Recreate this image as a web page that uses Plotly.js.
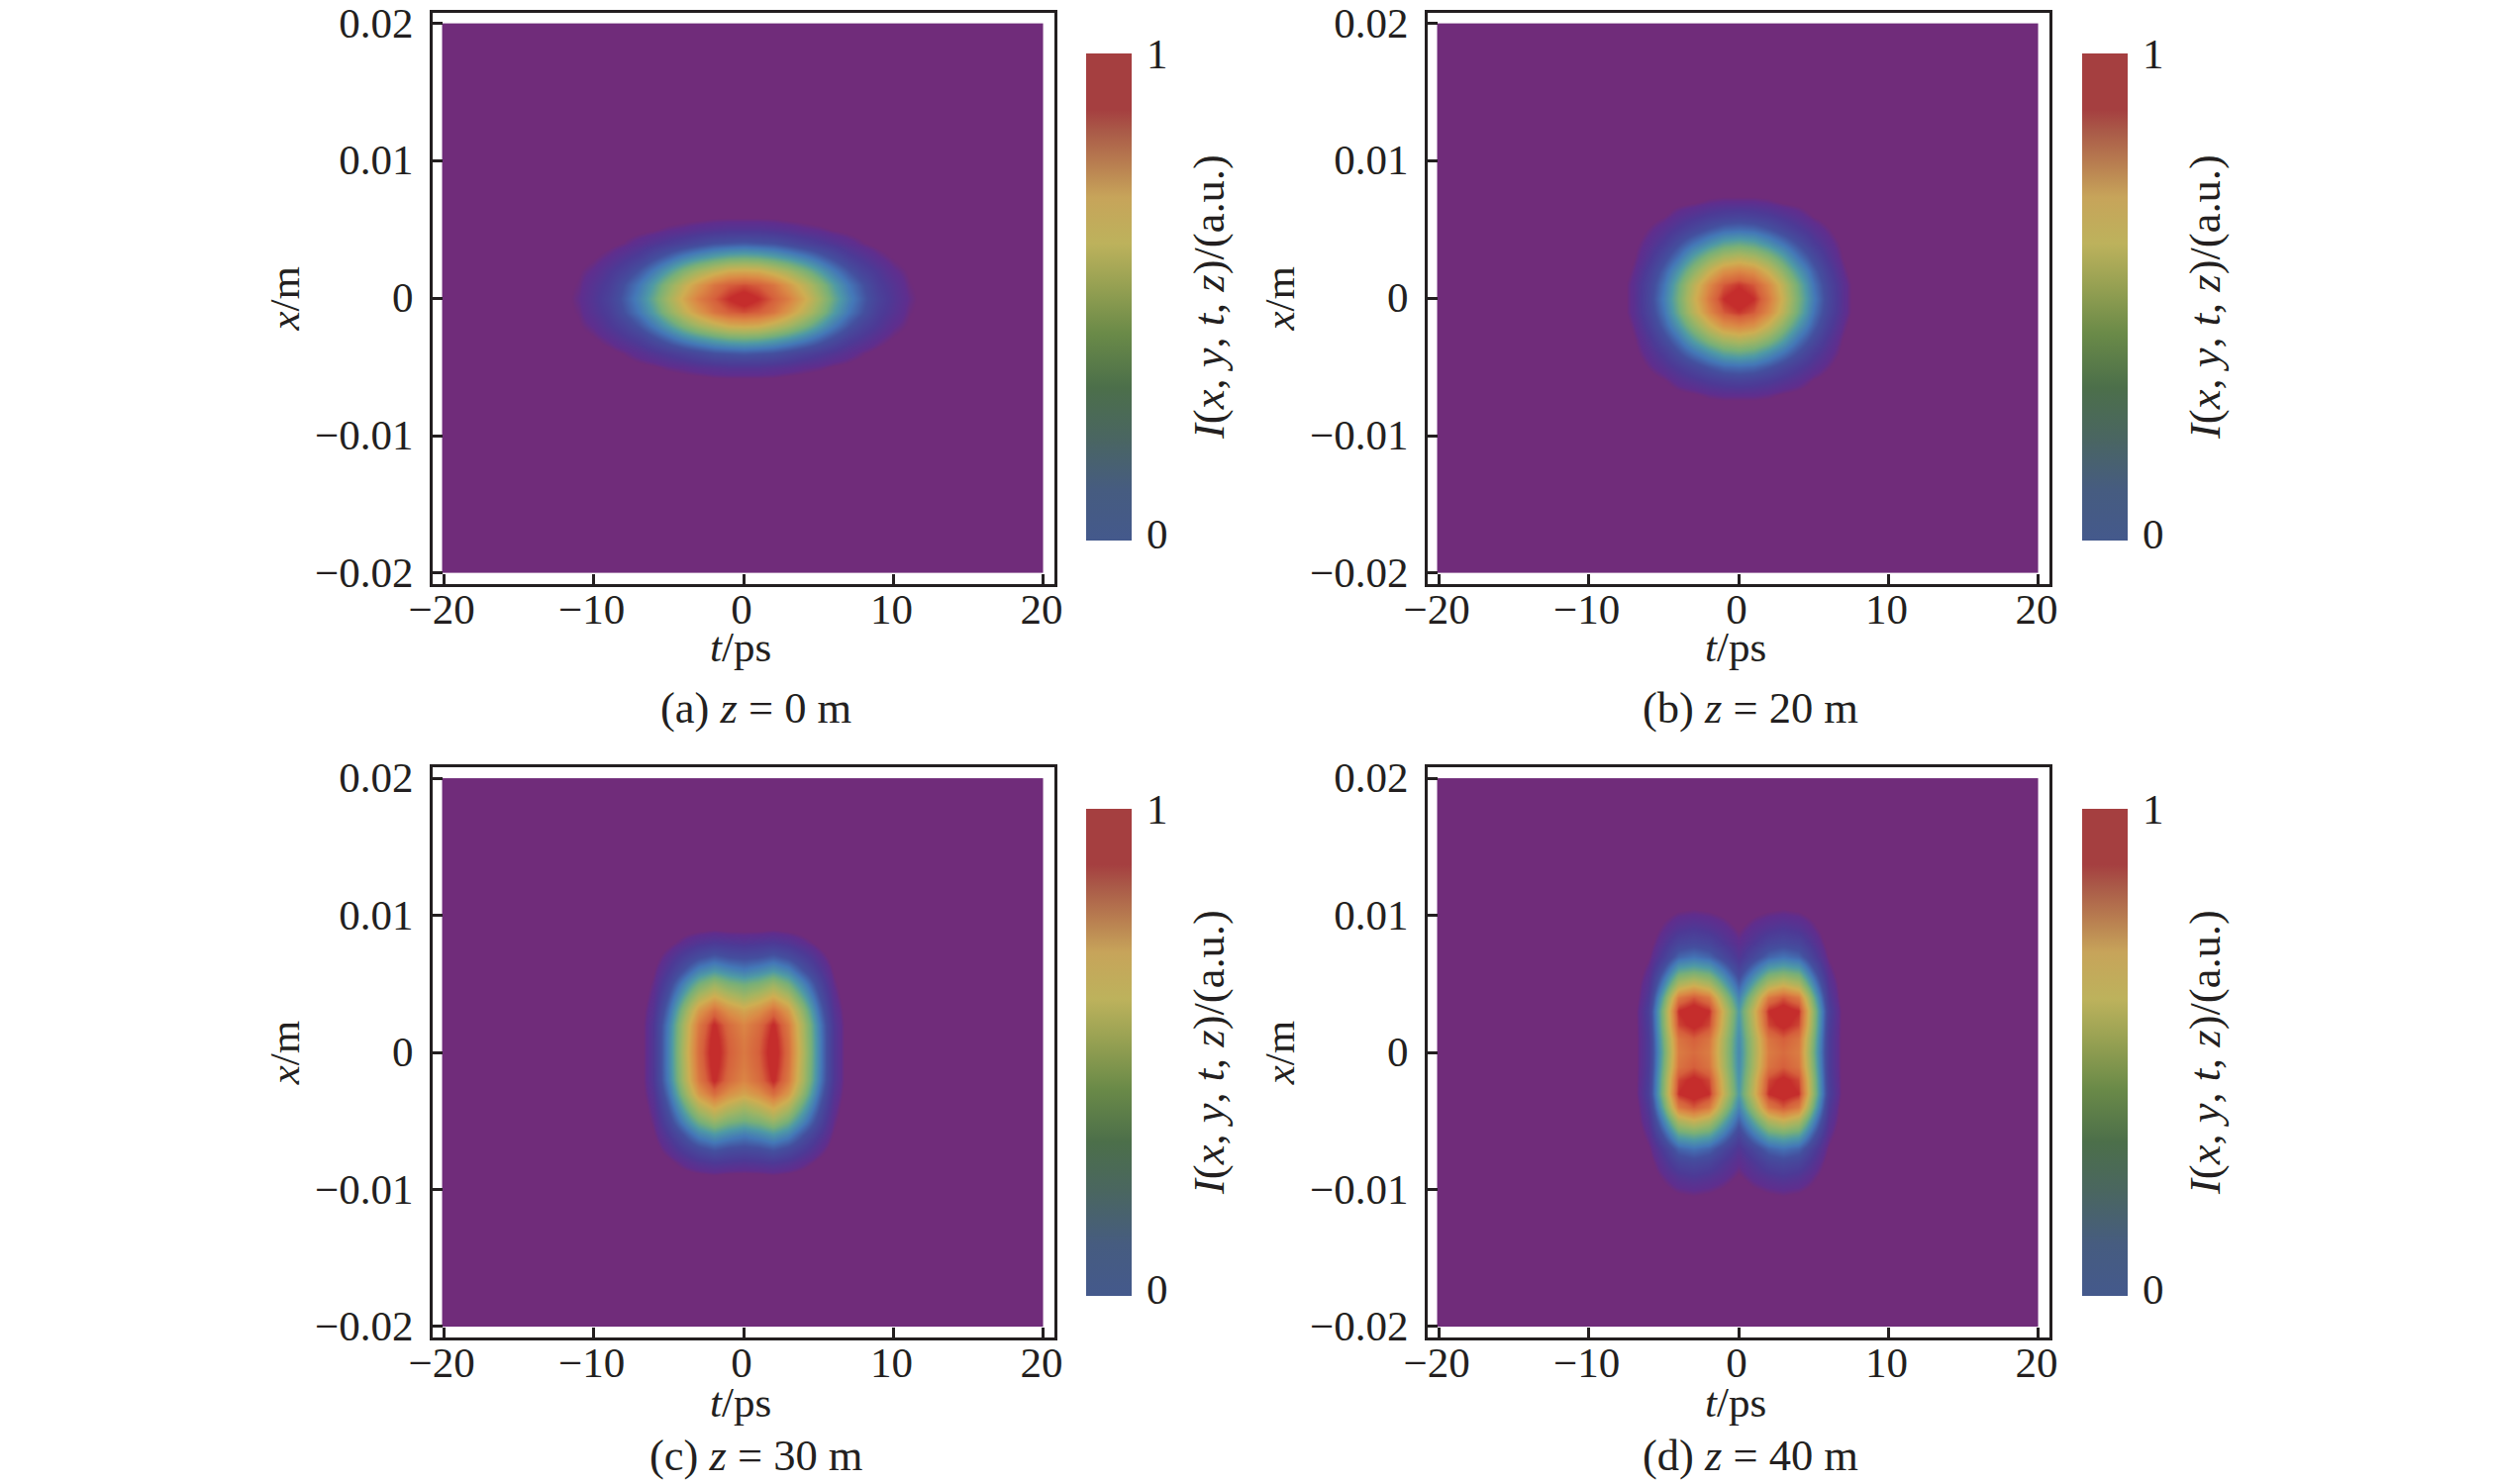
<!DOCTYPE html>
<html>
<head>
<meta charset="utf-8">
<script src="https://cdn.plot.ly/plotly-3.0.1.min.js"></script>
<style>html,body{margin:0;padding:0;background:#fff}</style>
</head>
<body>
<div id="chart" style="width:2519px;height:1499px"></div>
<script>
// axis ticks
const tTicks = [-20, -10, 0, 10, 20];
const tLabels = ["\u221220", "\u221210", "0", "10", "20"];
const xTicks = [-0.02, -0.01, 0, 0.01, 0.02];
const xLabels = ["\u22120.02", "\u22120.01", "0", "0.01", "0.02"];
const captions = ["(a) <i>z</i> = 0 m", "(b) <i>z</i> = 20 m", "(c) <i>z</i> = 30 m", "(d) <i>z</i> = 40 m"];

// intensity, nodes 1 ps and 0.001 m apart, purple everywhere else
const tA = [-12,-11,-10,-9,-8,-7,-6,-5,-4,-3,-2,-1,0,1,2,3,4,5,6,7,8,9,10,11,12];
const xA = [-0.008,-0.007,-0.006,-0.005,-0.004,-0.003,-0.002,-0.001,0,0.001,0.002,0.003,0.004,0.005,0.006,0.007,0.008];
const zA = [
[0,0,0,0,0,0,0,0,0,0,.01,.01,.01,.01,.01,0,0,0,0,0,0,0,0,0,0],
[0,0,0,0,.01,.01,.01,.01,.01,.02,.02,.02,.02,.02,.02,.02,.01,.01,.01,.01,.01,0,0,0,0],
[0,0,.01,.01,.01,.02,.03,.03,.04,.04,.05,.05,.05,.05,.05,.04,.04,.03,.03,.02,.01,.01,.01,0,0],
[.01,.01,.02,.02,.04,.05,.06,.08,.09,.11,.12,.13,.13,.13,.12,.11,.09,.08,.06,.05,.04,.02,.02,.01,.01],
[.01,.02,.04,.05,.07,.10,.13,.16,.19,.22,.25,.26,.27,.26,.25,.22,.19,.16,.13,.10,.07,.05,.04,.02,.01],
[.02,.04,.06,.09,.13,.17,.23,.29,.35,.40,.44,.47,.48,.47,.44,.40,.35,.29,.23,.17,.13,.09,.06,.04,.02],
[.04,.06,.09,.14,.19,.26,.34,.43,.52,.60,.66,.71,.72,.71,.66,.60,.52,.43,.34,.26,.19,.14,.09,.06,.04],
[.05,.07,.12,.17,.25,.33,.43,.55,.66,.76,.85,.90,.92,.90,.85,.76,.66,.55,.43,.33,.25,.17,.12,.07,.05],
[.05,.08,.13,.19,.27,.36,.47,.60,.72,.83,.90,.96,1,.96,.90,.83,.72,.60,.47,.36,.27,.19,.13,.08,.05],
[.05,.07,.12,.17,.25,.33,.43,.55,.66,.76,.85,.90,.92,.90,.85,.76,.66,.55,.43,.33,.25,.17,.12,.07,.05],
[.04,.06,.09,.14,.19,.26,.34,.43,.52,.60,.66,.71,.72,.71,.66,.60,.52,.43,.34,.26,.19,.14,.09,.06,.04],
[.02,.04,.06,.09,.13,.17,.23,.29,.35,.40,.44,.47,.48,.47,.44,.40,.35,.29,.23,.17,.13,.09,.06,.04,.02],
[.01,.02,.04,.05,.07,.10,.13,.16,.19,.22,.25,.26,.27,.26,.25,.22,.19,.16,.13,.10,.07,.05,.04,.02,.01],
[.01,.01,.02,.02,.04,.05,.06,.08,.09,.11,.12,.13,.13,.13,.12,.11,.09,.08,.06,.05,.04,.02,.02,.01,.01],
[0,0,.01,.01,.01,.02,.03,.03,.04,.04,.05,.05,.05,.05,.05,.04,.04,.03,.03,.02,.01,.01,.01,0,0],
[0,0,0,0,.01,.01,.01,.01,.01,.02,.02,.02,.02,.02,.02,.02,.01,.01,.01,.01,.01,0,0,0,0],
[0,0,0,0,0,0,0,0,0,0,.01,.01,.01,.01,.01,0,0,0,0,0,0,0,0,0,0]
];

const tB = [-9,-8,-7,-6,-5,-4,-3,-2,-1,0,1,2,3,4,5,6,7,8,9];
const xB = [-0.008,-0.007,-0.006,-0.005,-0.004,-0.003,-0.002,-0.001,0,0.001,0.002,0.003,0.004,0.005,0.006,0.007,0.008];
const zB = [
[0,0,0,.01,.01,.02,.02,.03,.03,.03,.03,.03,.02,.02,.01,.01,0,0,0],
[0,0,.01,.02,.03,.05,.06,.08,.09,.09,.09,.08,.06,.05,.03,.02,.01,0,0],
[0,.01,.02,.04,.06,.10,.13,.16,.18,.19,.18,.16,.13,.10,.06,.04,.02,.01,0],
[0,.01,.03,.07,.11,.16,.21,.26,.30,.31,.30,.26,.21,.16,.11,.07,.03,.01,0],
[0,.01,.05,.10,.16,.24,.32,.39,.45,.47,.45,.39,.32,.24,.16,.10,.05,.01,0],
[0,.02,.06,.13,.22,.32,.44,.54,.61,.64,.61,.54,.44,.32,.22,.13,.06,.02,0],
[0,.02,.08,.17,.28,.41,.55,.68,.78,.81,.78,.68,.55,.41,.28,.17,.08,.02,0],
[0,.03,.10,.20,.32,.48,.65,.80,.91,.95,.91,.80,.65,.48,.32,.20,.10,.03,0],
[0,.03,.10,.21,.34,.50,.68,.84,.96,1,.96,.84,.68,.50,.34,.21,.10,.03,0],
[0,.03,.10,.20,.32,.48,.65,.80,.91,.95,.91,.80,.65,.48,.32,.20,.10,.03,0],
[0,.02,.08,.17,.28,.41,.55,.68,.78,.81,.78,.68,.55,.41,.28,.17,.08,.02,0],
[0,.02,.06,.13,.22,.32,.44,.54,.61,.64,.61,.54,.44,.32,.22,.13,.06,.02,0],
[0,.01,.05,.10,.16,.24,.32,.39,.45,.47,.45,.39,.32,.24,.16,.10,.05,.01,0],
[0,.01,.03,.07,.11,.16,.21,.26,.30,.31,.30,.26,.21,.16,.11,.07,.03,.01,0],
[0,.01,.02,.04,.06,.10,.13,.16,.18,.19,.18,.16,.13,.10,.06,.04,.02,.01,0],
[0,0,.01,.02,.03,.05,.06,.08,.09,.09,.09,.08,.06,.05,.03,.02,.01,0,0],
[0,0,0,.01,.01,.02,.02,.03,.03,.03,.03,.03,.02,.02,.01,.01,0,0,0]
];

const tC = [-8,-7,-6,-5,-4,-3,-2,-1,0,1,2,3,4,5,6,7,8];
const xC = [-0.01,-0.009,-0.008,-0.007,-0.006,-0.005,-0.004,-0.003,-0.002,-0.001,0,0.001,0.002,0.003,0.004,0.005,0.006,0.007,0.008,0.009,0.01];
const zC = [
[0,0,0,0,.01,.01,.01,.01,.01,.01,.01,.01,.01,.01,0,0,0],
[0,0,.01,.02,.04,.05,.06,.05,.05,.05,.06,.05,.04,.02,.01,0,0],
[0,0,.02,.05,.09,.13,.15,.14,.13,.14,.15,.13,.09,.05,.02,0,0],
[0,.01,.04,.10,.17,.23,.27,.24,.23,.24,.27,.23,.17,.10,.04,.01,0],
[0,.01,.06,.15,.25,.36,.41,.37,.34,.37,.41,.36,.25,.15,.06,.01,0],
[0,.02,.08,.21,.36,.50,.58,.52,.49,.52,.58,.50,.36,.21,.08,.02,0],
[0,.02,.10,.26,.45,.63,.72,.65,.60,.65,.72,.63,.45,.26,.10,.02,0],
[0,.03,.12,.31,.54,.76,.87,.78,.73,.78,.87,.76,.54,.31,.12,.03,0],
[0,.03,.14,.35,.60,.84,.97,.87,.81,.87,.97,.84,.60,.35,.14,.03,0],
[0,.03,.14,.36,.61,.86,.99,.89,.83,.89,.99,.86,.61,.36,.14,.03,0],
[0,.03,.14,.36,.62,.87,1,.90,.84,.90,1,.87,.62,.36,.14,.03,0],
[0,.03,.14,.36,.61,.86,.99,.89,.83,.89,.99,.86,.61,.36,.14,.03,0],
[0,.03,.14,.35,.60,.84,.97,.87,.81,.87,.97,.84,.60,.35,.14,.03,0],
[0,.03,.12,.31,.54,.76,.87,.78,.73,.78,.87,.76,.54,.31,.12,.03,0],
[0,.02,.10,.26,.45,.63,.72,.65,.60,.65,.72,.63,.45,.26,.10,.02,0],
[0,.02,.08,.21,.36,.50,.58,.52,.49,.52,.58,.50,.36,.21,.08,.02,0],
[0,.01,.06,.15,.25,.36,.41,.37,.34,.37,.41,.36,.25,.15,.06,.01,0],
[0,.01,.04,.10,.17,.23,.27,.24,.23,.24,.27,.23,.17,.10,.04,.01,0],
[0,0,.02,.05,.09,.13,.15,.14,.13,.14,.15,.13,.09,.05,.02,0,0],
[0,0,.01,.02,.04,.05,.06,.05,.05,.05,.06,.05,.04,.02,.01,0,0],
[0,0,0,0,.01,.01,.01,.01,.01,.01,.01,.01,.01,.01,0,0,0]
];

const tD = [-8,-7,-6,-5,-4,-3,-2,-1,0,1,2,3,4,5,6,7,8];
const xD = [-0.011,-0.01,-0.009,-0.008,-0.007,-0.006,-0.005,-0.004,-0.003,-0.002,-0.001,0,0.001,0.002,0.003,0.004,0.005,0.006,0.007,0.008,0.009,0.01,0.011];
const zD = [
[0,0,.01,.02,.03,.04,.03,.02,.01,.02,.03,.04,.03,.02,.01,0,0],
[0,0,.02,.05,.08,.09,.08,.06,.03,.06,.08,.09,.08,.05,.02,0,0],
[0,.01,.03,.08,.13,.15,.13,.10,.06,.10,.13,.15,.13,.08,.03,.01,0],
[0,.01,.04,.12,.20,.22,.20,.14,.09,.14,.20,.22,.20,.12,.04,.01,0],
[0,.01,.06,.17,.29,.32,.29,.21,.13,.21,.29,.32,.29,.17,.06,.01,0],
[0,.02,.09,.26,.45,.48,.45,.33,.20,.33,.45,.48,.45,.26,.09,.02,0],
[0,.03,.12,.36,.62,.68,.62,.45,.28,.45,.62,.68,.62,.36,.12,.03,0],
[0,.03,.15,.47,.84,.91,.84,.58,.36,.58,.84,.91,.84,.47,.15,.03,0],
[0,.04,.18,.54,.96,1,.96,.67,.42,.67,.96,1,.96,.54,.18,.04,0],
[0,.04,.17,.53,.93,.98,.93,.65,.40,.65,.93,.98,.93,.53,.17,.04,0],
[0,.04,.16,.50,.85,.90,.85,.61,.38,.61,.85,.90,.85,.50,.16,.04,0],
[0,.04,.16,.48,.83,.87,.83,.60,.37,.60,.83,.87,.83,.48,.16,.04,0],
[0,.04,.16,.50,.85,.90,.85,.61,.38,.61,.85,.90,.85,.50,.16,.04,0],
[0,.04,.17,.53,.93,.98,.93,.65,.40,.65,.93,.98,.93,.53,.17,.04,0],
[0,.04,.18,.54,.96,1,.96,.67,.42,.67,.96,1,.96,.54,.18,.04,0],
[0,.03,.15,.47,.84,.91,.84,.58,.36,.58,.84,.91,.84,.47,.15,.03,0],
[0,.03,.12,.36,.62,.68,.62,.45,.28,.45,.62,.68,.62,.36,.12,.03,0],
[0,.02,.09,.26,.45,.48,.45,.33,.20,.33,.45,.48,.45,.26,.09,.02,0],
[0,.01,.06,.17,.29,.32,.29,.21,.13,.21,.29,.32,.29,.17,.06,.01,0],
[0,.01,.04,.12,.20,.22,.20,.14,.09,.14,.20,.22,.20,.12,.04,.01,0],
[0,.01,.03,.08,.13,.15,.13,.10,.06,.10,.13,.15,.13,.08,.03,.01,0],
[0,0,.02,.05,.08,.09,.08,.06,.03,.06,.08,.09,.08,.05,.02,0,0],
[0,0,.01,.02,.03,.04,.03,.02,.01,.02,.03,.04,.03,.02,.01,0,0]
];

const heatScale = [[0,"#702c7a"],[.065,"#702c7a"],[.085,"#602e8e"],[.15,"#4d3a96"],[.25,"#44509f"],[.33,"#4478b8"],[.42,"#4f9aa6"],[.5,"#78b078"],[.6,"#a5b561"],[.7,"#cfae52"],[.8,"#db8a46"],[.9,"#d6603c"],[.96,"#c52d2c"],[1,"#c52d2c"]];
const barScale = [[0,"#44598c"],[.105,"#465c80"],[.215,"#4a6660"],[.315,"#4c6f4a"],[.425,"#6a8a48"],[.52,"#95a052"],[.61,"#bdb25c"],[.705,"#c7a45a"],[.775,"#b87d50"],[.84,"#aa5a48"],[.885,"#a53f40"],[1,"#a53f40"]];

const W = 2519, H = 1499;
const FONT = "Liberation Serif, Times New Roman, serif";
const INK = "#231f20";
const BAR_TITLE = "<i>I</i>(<i>x</i>, <i>y</i>, <i>t</i>, <i>z</i>)/(a.u.)";
const tEdge = [-20.1, 20], xEdge = 0.02;

// plot boxes in page pixels
const boxes = [
	{ l: 437, r: 1065, t: 12.5, b: 590, bar: 1097, barTop: 54, label: 653, cap: 715, mid: 763 },
	{ l: 1442, r: 2070, t: 12.5, b: 590, bar: 2103, barTop: 54, label: 653, cap: 715, mid: 1768 },
	{ l: 437, r: 1065, t: 775, b: 1351, bar: 1097, barTop: 817, label: 1416, cap: 1470, mid: 763 },
	{ l: 1442, r: 2070, t: 775, b: 1351, bar: 2103, barTop: 817, label: 1416, cap: 1470, mid: 1768 }
];
const nodes = [[tA, xA, zA], [tB, xB, zB], [tC, xC, zC], [tD, xD, zD]];

// bin edges around the nodes, the outer bins run out to the edge of the image
function edges(v, lo, hi) {
	const step = v[1] - v[0];
	const out = [lo];
	v.forEach((n) => out.push(n - step / 2));
	out.push(v[v.length - 1] + step / 2, hi);
	return out;
}
function padded(z) {
	const blank = new Array(z[0].length + 2).fill(0);
	return [blank].concat(z.map((row) => [0].concat(row, [0])), [blank]);
}
function note(x, y, text, size, angle) {
	return {
		xref: "paper",
		yref: "paper",
		x: x / W,
		y: 1 - y / H,
		xanchor: "center",
		yanchor: "middle",
		showarrow: false,
		text: text,
		textangle: angle || 0,
		font: { family: FONT, size: size, color: INK }
	};
}

const traces = [];
const annotations = [];
const layout = {
	width: W,
	height: H,
	margin: { l: 0, r: 0, t: 0, b: 0 },
	paper_bgcolor: "#fff",
	plot_bgcolor: "#fff",
	font: { family: FONT, size: 43, color: INK },
	showlegend: false
};

boxes.forEach((box, i) => {
	const n = i === 0 ? "" : String(i + 1);
	const [t, x, z] = nodes[i];
	traces.push({
		type: "heatmap",
		xaxis: "x" + n,
		yaxis: "y" + n,
		x: edges(t, tEdge[0], tEdge[1]),
		y: edges(x, -xEdge, xEdge),
		z: padded(z),
		zmin: 0,
		zmax: 1,
		zsmooth: "best",
		colorscale: heatScale,
		showscale: false,
		hoverinfo: "skip"
	});
	// the printed key is paler than the image, so it gets its own empty trace
	traces.push({
		type: "scatter",
		mode: "markers",
		xaxis: "x" + n,
		yaxis: "y" + n,
		x: [null],
		y: [null],
		hoverinfo: "skip",
		marker: {
			color: [0],
			cmin: 0,
			cmax: 1,
			colorscale: barScale,
			showscale: true,
			colorbar: {
				x: box.bar / W,
				xanchor: "left",
				y: 1 - (box.barTop + 246) / H,
				yanchor: "middle",
				thickness: 46,
				thicknessmode: "pixels",
				len: 492,
				lenmode: "pixels",
				xpad: 0,
				ypad: 0,
				outlinewidth: 0,
				tickmode: "array",
				// the 0 sits a little above the end of the bar in the print
				tickvals: [0.014, 1],
				ticktext: ["0", "1"],
				ticks: "outside",
				ticklen: 7,
				tickcolor: "rgba(0,0,0,0)",
				tickfont: { family: FONT, size: 43, color: INK }
			}
		}
	});
	layout["xaxis" + n] = {
		domain: [box.l / W, box.r / W],
		anchor: "y" + n,
		range: [-20.73, 20.73],
		tickmode: "array",
		tickvals: tTicks,
		ticktext: tLabels,
		ticks: "inside",
		ticklen: 10,
		tickwidth: 2.5,
		tickcolor: INK,
		ticklabelstandoff: -15,
		ticklabelshift: -2,
		showgrid: false,
		zeroline: false,
		showline: true,
		mirror: true,
		linewidth: 3,
		linecolor: INK,
		tickfont: { family: FONT, size: 43, color: INK }
	};
	layout["yaxis" + n] = {
		domain: [1 - box.b / H, 1 - box.t / H],
		anchor: "x" + n,
		range: [-0.0208, 0.0208],
		tickmode: "array",
		tickvals: xTicks,
		ticktext: xLabels,
		ticks: "inside",
		ticklen: 10,
		tickwidth: 2.5,
		tickcolor: INK,
		ticklabelstandoff: 8,
		ticklabelshift: -1,
		// the top label touches the page edge and plotly drops it otherwise
		ticklabeloverflow: "allow",
		showgrid: false,
		zeroline: false,
		showline: true,
		mirror: true,
		linewidth: 3,
		linecolor: INK,
		tickfont: { family: FONT, size: 43, color: INK },
		title: { text: "<i>x</i>/m", standoff: 2, font: { family: FONT, size: 43, color: INK } }
	};
	annotations.push(note((box.l + box.r) / 2 - 3, box.label, "<i>t</i>/ps", 43));
	annotations.push(note(box.mid, box.cap, captions[i], 44.5));
	annotations.push(note(box.bar + 124, box.barTop + 246, BAR_TITLE, 44.5, -90));
});
layout.annotations = annotations;

Plotly.newPlot("chart", traces, layout, { displayModeBar: false, responsive: false });
</script>
</body>
</html>
